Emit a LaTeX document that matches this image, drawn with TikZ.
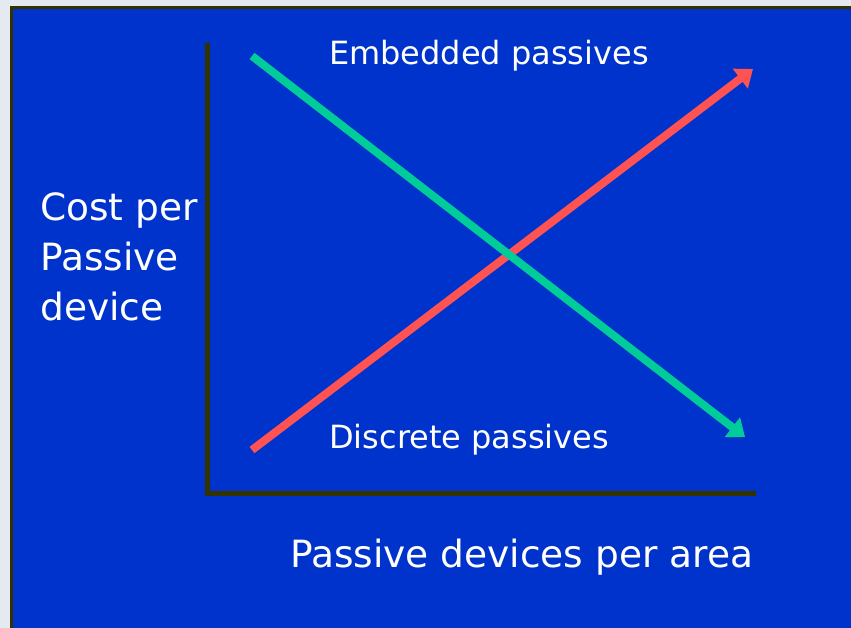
\documentclass[tikz,border=0pt]{standalone}
\usepackage{fontspec}
\setmainfont{DejaVu Sans}
\usetikzlibrary{arrows.meta}
\definecolor{slideblue}{RGB}{0,51,204}
\definecolor{olivedark}{RGB}{51,51,0}
\definecolor{pagegray}{RGB}{228,234,240}
\definecolor{discretered}{RGB}{255,82,82}
\definecolor{embeddedgreen}{RGB}{0,204,153}

\begin{document}
\begin{tikzpicture}[x=1pt,y=-1pt]
\useasboundingbox (0,0) rectangle (851,628);
\fill[pagegray] (0,0) rectangle (851,628);
\filldraw[fill=slideblue,draw=olivedark,line width=3pt] (11.5,7.5) rectangle (860,640);

\tikzstyle{every node}=[text=white,inner sep=0pt]
\tikzstyle{smalltext}=[font=\fontsize{32}{38}\selectfont]
\tikzstyle{bigtext}=[font=\fontsize{37.5}{50}\selectfont,align=left]
\tikzstyle{trend}=[line width=8pt,-{Triangle[length=16pt,width=24pt]}]

% axes
\coordinate (ytop) at (207.5,43);
\coordinate (origin) at (207.5,493.5);
\coordinate (xend) at (756,493.5);
\draw[olivedark,line width=5pt] (ytop) -- (origin) -- (xend);

% trend lines
\coordinate (discrete start) at (252,450);
\coordinate (discrete end) at (753,69);
\coordinate (embedded start) at (252,56);
\coordinate (embedded end) at (745,437);
\draw[trend,discretered] (discrete start) -- (discrete end);
\draw[trend,embeddedgreen] (embedded start) -- (embedded end);

% labels
\node (embedded) [smalltext,anchor=base west] at (329,65) {Embedded passives};
\node (discrete) [smalltext,anchor=base west] at (329,448) {Discrete passives};
\node (xlabel) [bigtext,anchor=base west] at (290,567) {Passive devices per area};
\node (ylabel) [bigtext,anchor=north west] at (40,192) {Cost per\\Passive\\device};
\end{tikzpicture}
\end{document}
